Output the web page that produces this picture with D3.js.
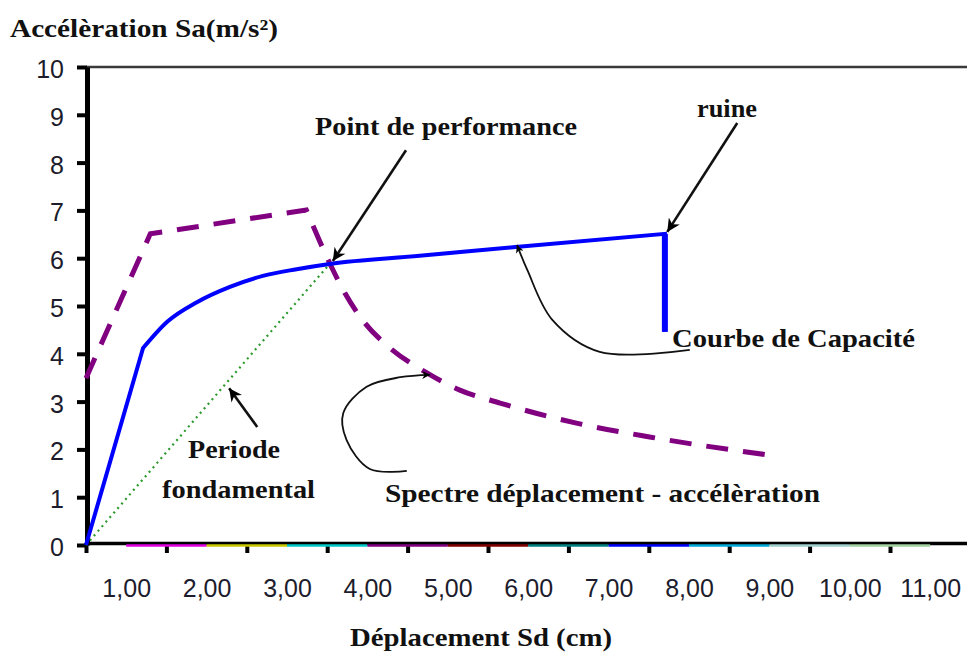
<!DOCTYPE html>
<html>
<head>
<meta charset="utf-8">
<script src="https://cdn.jsdelivr.net/npm/d3@7"></script>
<style>
body { margin: 0; background: #fff; }
svg { display: block; }
.lbl { font-family: "Liberation Serif", "Times New Roman", serif; font-weight: bold; fill: #111; }
.tick text { font-family: "Liberation Sans", Arial, sans-serif; font-size: 25px; fill: #1c1c2c; }
</style>
</head>
<body>
<script>

// valeurs
var yTickValues = [0, 1, 2, 3, 4, 5, 6, 7, 8, 9, 10];
var xLabelValues = [1, 2, 3, 4, 5, 6, 7, 8, 9, 10, 11];
var xLabels = ["1,00", "2,00", "3,00", "4,00", "5,00", "6,00", "7,00", "8,00", "9,00", "10,00", "11,00"];
var xTickMarks = [0.5, 1.5, 2.5, 3.5, 4.5, 5.5, 6.5, 7.5, 8.5, 9.5, 10.5];

// courbe de capacite (Sd, Sa)
var capacite = [[0.5, 0], [1.21, 4.12], [1.51, 4.67], [1.88, 5.08], [2.29, 5.40], [2.70, 5.63],
                [3.12, 5.77], [3.53, 5.88], [4.65, 6.05], [5.81, 6.23], [7.70, 6.51], [7.70, 4.46]];

// spectre deplacement - acceleration
var spectre = [[0.5, 3.49], [1.30, 6.51], [3.24, 7.01], [3.53, 5.90], [3.72, 5.27], [3.97, 4.64],
               [4.24, 4.18], [4.74, 3.60], [5.15, 3.24], [5.65, 2.97], [6.60, 2.55], [7.51, 2.26], [9.00, 1.88]];

// periode fondamentale
var periode = [[0.5, 0], [3.53, 5.88]];

// series nulles (couleurs Excel) le long de l'axe
var zeroColors = ["#e000e0", "#c8c800", "#00c8c8", "#800080", "#800000", "#008080",
                  "#0000ff", "#00a8d8", "#a0cccc", "#a0d0a0"];

var width = 967, height = 655;

var svg = d3.select("body").append("svg")
    .attr("width", width).attr("height", height);

var x = d3.scaleLinear().domain([0.5, 11.5]).range([86, 970.4]);
var y = d3.scaleLinear().domain([0, 10]).range([545, 67]);

// markers
var defs = svg.append("defs");
defs.append("marker")
    .attr("id", "head")
    .attr("viewBox", "0 -5 10 10")
    .attr("refX", 10).attr("refY", 0)
    .attr("markerUnits", "userSpaceOnUse")
    .attr("markerWidth", 17).attr("markerHeight", 13)
    .attr("orient", "auto")
    .append("path").attr("d", "M0,-5L10,0L0,5L3,0Z").attr("fill", "#000");
defs.append("marker")
    .attr("id", "headSmall")
    .attr("viewBox", "0 -5 10 10")
    .attr("refX", 10).attr("refY", 0)
    .attr("markerUnits", "userSpaceOnUse")
    .attr("markerWidth", 10).attr("markerHeight", 8)
    .attr("orient", "auto")
    .append("path").attr("d", "M0,-5L10,0L0,5L3,0Z").attr("fill", "#000");

// cadre haut
svg.append("line")
    .attr("x1", x(0.5)).attr("x2", width)
    .attr("y1", y(10)).attr("y2", y(10))
    .attr("stroke", "#3a3a3a").attr("stroke-width", 2.5);

// axe x (traits)
var xAxis = svg.append("g")
    .attr("transform", "translate(0," + (y(0) - 2) + ")")
    .call(d3.axisBottom(x).tickValues(xTickMarks).tickSize(10).tickSizeOuter(0).tickFormat(""));
xAxis.select(".domain").attr("stroke", "#000").attr("stroke-width", 3.5);
xAxis.selectAll(".tick line").attr("stroke", "#000").attr("stroke-width", 4);

// axe x (etiquettes)
var xLab = svg.append("g")
    .attr("transform", "translate(0," + y(0) + ")")
    .call(d3.axisBottom(x).tickValues(xLabelValues).tickSize(0).tickPadding(34)
        .tickFormat(function (d, i) { return xLabels[i]; }));
xLab.select(".domain").remove();

// series nulles colorees
svg.selectAll("line.zero")
    .data(zeroColors)
    .enter()
    .append("line")
    .attr("class", "zero")
    .attr("x1", function (c, i) { return x(xLabelValues[i]); })
    .attr("x2", function (c, i) { return x(xLabelValues[i + 1]); })
    .attr("y1", y(0) + 0.5).attr("y2", y(0) + 0.5)
    .attr("stroke", function (c) { return c; })
    .attr("stroke-width", 2.5);

// axe y
var yAxis = svg.append("g")
    .attr("transform", "translate(" + (x(0.5) + 1) + ",0)")
    .call(d3.axisLeft(y).tickValues(yTickValues).tickSize(10).tickSizeOuter(0).tickPadding(13));
yAxis.select(".domain").attr("stroke", "#000").attr("stroke-width", 5);
yAxis.selectAll(".tick line").attr("stroke", "#000").attr("stroke-width", 4);
yAxis.selectAll(".tick text").attr("dy", "0.42em");

// courbes
var lineLin = d3.line().x(function (d) { return x(d[0]); }).y(function (d) { return y(d[1]); });
var lineSmooth = d3.line().curve(d3.curveMonotoneX)
    .x(function (d) { return x(d[0]); }).y(function (d) { return y(d[1]); });

function joinPath(a, b, c) {
    var p = lineLin(a) + lineSmooth(b).replace(/^M/, "L");
    if (c) p += lineLin(c).replace(/^M/, "L");
    return p;
}

svg.append("path")
    .attr("d", lineLin(periode))
    .attr("fill", "none")
    .attr("stroke", "#2a9a2a")
    .attr("stroke-width", 2.2)
    .attr("stroke-dasharray", "2,4");

svg.append("path")
    .attr("d", joinPath(spectre.slice(0, 3), spectre.slice(2)))
    .attr("fill", "none")
    .attr("stroke", "#800080")
    .attr("stroke-width", 5)
    .attr("stroke-dasharray", "22,15");

svg.append("path")
    .attr("d", joinPath(capacite.slice(0, 2), capacite.slice(1, capacite.length - 1),
        capacite.slice(capacite.length - 2)))
    .attr("fill", "none")
    .attr("stroke", "#0000ff")
    .attr("stroke-width", 4)
    .attr("stroke-linejoin", "miter");

svg.append("line")
    .attr("x1", x(7.70)).attr("x2", x(7.70))
    .attr("y1", y(6.51)).attr("y2", y(4.46))
    .attr("stroke", "#0000ff").attr("stroke-width", 6);

// fleches droites
var arrows = [
    [[4.48, 8.26], [3.57, 5.94]],
    [[8.60, 8.83], [7.73, 6.55]],
    [[2.63, 2.47], [2.28, 3.28]]
];
svg.selectAll("path.arrow")
    .data(arrows)
    .enter()
    .append("path")
    .attr("class", "arrow")
    .attr("d", lineLin)
    .attr("stroke", "#111")
    .attr("stroke-width", 2.6)
    .attr("fill", "none")
    .attr("marker-end", "url(#head)");

// fleches courbes
var curvedArrows = [
    [[8.01, 4.08], [6.89, 4.04], [6.30, 4.71], [5.99, 5.75], [5.86, 6.28]],
    [[4.49, 1.55], [4.03, 1.59], [3.74, 2.20], [3.70, 2.76], [3.99, 3.31], [4.41, 3.51], [4.78, 3.56]]
];
var lineCurved = d3.line().curve(d3.curveCatmullRom)
    .x(function (d) { return x(d[0]); }).y(function (d) { return y(d[1]); });
svg.selectAll("path.carrow")
    .data(curvedArrows)
    .enter()
    .append("path")
    .attr("class", "carrow")
    .attr("d", lineCurved)
    .attr("stroke", "#111")
    .attr("stroke-width", 1.8)
    .attr("fill", "none")
    .attr("marker-end", "url(#headSmall)");

// textes
var labels = [
    { t: "Accélèration Sa(m/s²)", x: 10, y: 37, w: 268, s: 25 },
    { t: "Point de performance", x: 315, y: 135, w: 262, s: 26 },
    { t: "ruine", x: 697, y: 117, w: 60, s: 26 },
    { t: "Courbe de Capacité", x: 672, y: 347, w: 243, s: 26 },
    { t: "Periode", x: 188, y: 458, w: 92, s: 26 },
    { t: "fondamental", x: 162, y: 498, w: 153, s: 26 },
    { t: "Spectre déplacement - accélèration", x: 385, y: 502, w: 435, s: 26 },
    { t: "Déplacement Sd (cm)", x: 350, y: 646, w: 262, s: 26 }
];
svg.selectAll("text.lbl")
    .data(labels)
    .enter()
    .append("text")
    .attr("class", "lbl")
    .attr("x", function (d) { return d.x; })
    .attr("y", function (d) { return d.y; })
    .attr("font-size", function (d) { return d.s + "px"; })
    .attr("textLength", function (d) { return d.w; })
    .attr("lengthAdjust", "spacingAndGlyphs")
    .text(function (d) { return d.t; });

</script>
</body>
</html>
